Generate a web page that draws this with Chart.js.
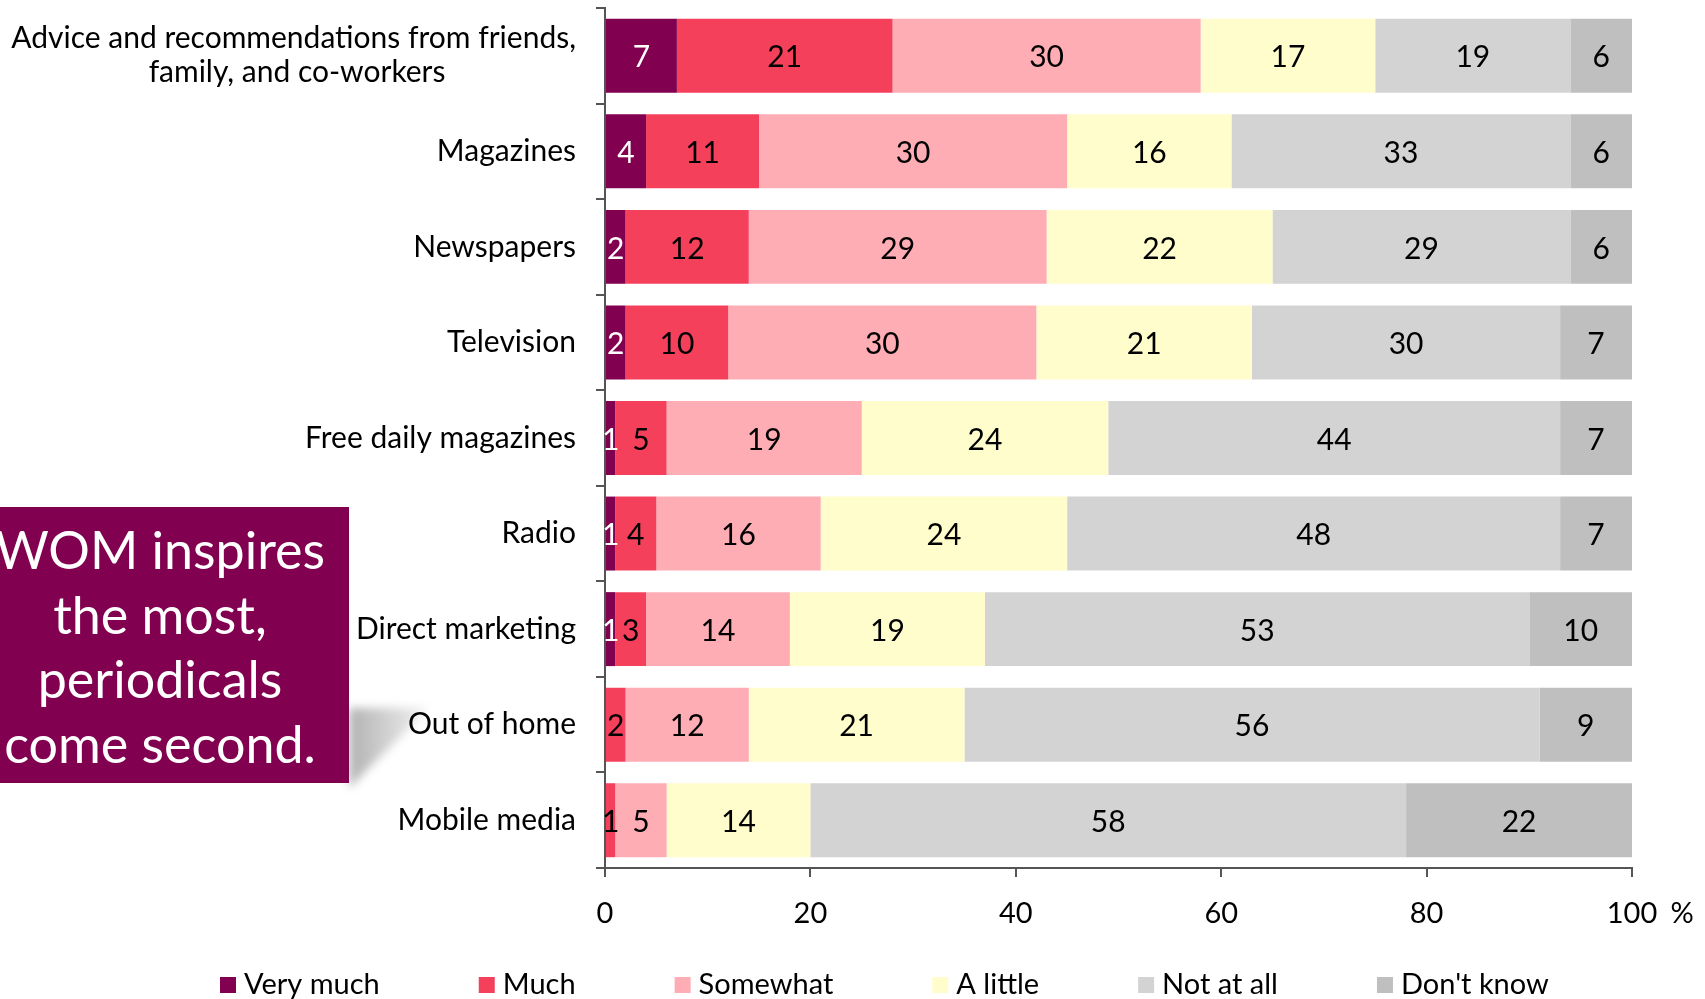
<!DOCTYPE html>
<html lang="en">
<head>
    <meta charset="UTF-8">
    <title>Media that inspire purchases</title>
    <script src="https://cdn.jsdelivr.net/npm/chart.js"></script>
    <style>
        body { margin: 0; background: #fff; overflow: hidden; }
        #wrap { position: relative; width: 1705px; height: 999px; }
        #shadow { position: absolute; left: 349px; top: 696px; width: 100px; height: 100px; z-index: 0; filter: blur(5px); }
        #shadow div {
            width: 100%; height: 100%;
            background: linear-gradient(to right, rgba(0,0,0,0.30), rgba(0,0,0,0.08) 70%, rgba(0,0,0,0));
            clip-path: polygon(0 12px, 80px 12px, 0 92px);
        }
        #chartBox { position: absolute; left: 0; top: 0; width: 1705px; height: 999px; z-index: 1; }
        #callout {
            position: absolute; left: -29px; top: 507px; width: 378px; height: 276px; z-index: 2;
            background: #820050; color: #fff; font-family: Lato, sans-serif; font-size: 52px;
            line-height: 64.5px; text-align: center; padding-top: 10px; box-sizing: border-box;
        }
    </style>
</head>
<body>
    <div id="wrap">
        <div id="shadow"><div></div></div>
        <div id="chartBox"><canvas id="barChart"></canvas></div>
        <div id="callout">WOM inspires<br>the most,<br>periodicals<br>come second.</div>
    </div>

    <script>
        const categories = [
            ['Advice and recommendations from friends,', 'family, and co-workers'],
            'Magazines', 'Newspapers', 'Television', 'Free daily magazines',
            'Radio', 'Direct marketing', 'Out of home', 'Mobile media'
        ];
        const veryMuch = [7, 4, 2, 2, 1, 1, 1, 0, 0];
        const much     = [21, 11, 12, 10, 5, 4, 3, 2, 1];
        const somewhat = [30, 30, 29, 30, 19, 16, 14, 12, 5];
        const aLittle  = [17, 16, 22, 21, 24, 24, 19, 21, 14];
        const notAtAll = [19, 33, 29, 30, 44, 48, 53, 56, 58];
        const dontKnow = [6, 6, 6, 7, 7, 7, 10, 9, 22];

        const seriesNames = ['Very much', 'Much', 'Somewhat', 'A little', 'Not at all', "Don't know"];
        const seriesColors = ['#820050', '#F5405C', '#FFADB4', '#FFFDCC', '#D3D3D3', '#BFBFBF'];
        const valueColors = ['#ffffff', '#000000', '#000000', '#000000', '#000000', '#000000'];
        const xTickValues = [0, 20, 40, 60, 80, 100];
        const axisUnit = '%';

        const FONT = 'Lato';
        const axisColor = '#555555';
        const catFontSize = 30;

        // centre the shorter lines of a wrapped label under the longest one
        const measureCtx = document.createElement('canvas').getContext('2d');
        measureCtx.font = catFontSize + 'px ' + FONT;
        function centerLines(label) {
            if (!Array.isArray(label)) return label;
            const widths = label.map(l => measureCtx.measureText(l).width);
            const widest = Math.max(...widths);
            const sp = measureCtx.measureText(' ').width;
            return label.map((l, i) => l + ' '.repeat(Math.round((widest - widths[i]) / 2 / sp)));
        }

        // value printed in the middle of each segment
        const segmentLabels = {
            id: 'segmentLabels',
            afterDatasetsDraw(chart) {
                const ctx = chart.ctx;
                ctx.save();
                ctx.font = '30px ' + FONT;
                ctx.textAlign = 'center';
                ctx.textBaseline = 'middle';
                chart.data.datasets.forEach((ds, i) => {
                    chart.getDatasetMeta(i).data.forEach((bar, j) => {
                        const v = ds.data[j];
                        if (!v) return;
                        const p = bar.getProps(['x', 'y', 'base'], true);
                        ctx.fillStyle = valueColors[i];
                        ctx.fillText(String(v), (p.x + p.base) / 2, p.y + 2);
                    });
                });
                ctx.restore();
            }
        };

        // unit after the last x tick and the row of swatches below the axis
        const extras = {
            id: 'extras',
            afterDraw(chart) {
                const ctx = chart.ctx;
                const xs = chart.scales.x;
                ctx.save();
                ctx.fillStyle = '#000';
                ctx.font = '29px ' + FONT;
                ctx.textBaseline = 'middle';
                ctx.textAlign = 'center';
                ctx.fillText(axisUnit, xs.right + 50, xs.top + 46);

                ctx.textAlign = 'left';
                let x = 220;
                const y = 985;
                chart.data.datasets.forEach(ds => {
                    ctx.fillStyle = ds.backgroundColor;
                    ctx.fillRect(x, y - 8, 16, 16);
                    ctx.fillStyle = '#000';
                    ctx.fillText(ds.label, x + 24, y);
                    x += 24 + ctx.measureText(ds.label).width + 99;
                });
                ctx.restore();
            }
        };

        const seriesData = [veryMuch, much, somewhat, aLittle, notAtAll, dontKnow];

        new Chart(document.getElementById('barChart'), {
            type: 'bar',
            data: {
                labels: categories.map(centerLines),
                datasets: seriesData.map((d, i) => ({
                    label: seriesNames[i],
                    data: d,
                    backgroundColor: seriesColors[i],
                    borderWidth: 0,
                    barPercentage: 0.774,
                    categoryPercentage: 1
                }))
            },
            options: {
                indexAxis: 'y',
                responsive: true,
                maintainAspectRatio: false,
                animation: false,
                layout: { padding: { top: 8, right: 73, bottom: 71, left: 0 } },
                plugins: { legend: { display: false }, tooltip: { enabled: false } },
                scales: {
                    x: {
                        stacked: true,
                        min: 0,
                        max: 100,
                        afterBuildTicks(scale) { scale.ticks = xTickValues.map(v => ({ value: v })); },
                        afterFit(scale) { scale.height = 60; scale.paddingLeft = 0; scale.paddingRight = 0; },
                        ticks: { color: '#000', font: { family: FONT, size: 29 }, padding: 19, maxRotation: 0 },
                        grid: { drawOnChartArea: false, drawTicks: true, tickLength: 9, color: axisColor, lineWidth: 2 },
                        border: { display: true, color: axisColor, width: 2 }
                    },
                    y: {
                        stacked: true,
                        afterFit(scale) { scale.width = 605; scale.paddingTop = 0; scale.paddingBottom = 0; },
                        ticks: { color: '#000', font: { family: FONT, size: catFontSize, lineHeight: 1.13 }, padding: 20 },
                        grid: { offset: true, drawOnChartArea: false, drawTicks: true, tickLength: 9, color: axisColor, lineWidth: 2 },
                        border: { display: true, color: axisColor, width: 2 }
                    }
                }
            },
            plugins: [segmentLabels, extras]
        });
    </script>
</body>
</html>
